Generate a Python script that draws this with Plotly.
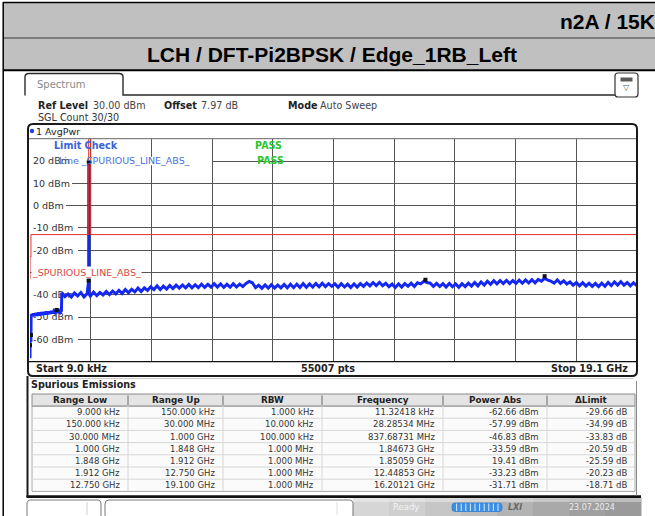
import plotly.graph_objects as go

W, H = 655, 516
FONT = "DejaVu Sans"
TITLE_FONT = "Liberation Sans"

# ------------------------------------------------------------------ data
band_top_text = "n2A / 15KHz"
band_sub_text = "LCH / DFT-Pi2BPSK / Edge_1RB_Left"
tab_label = "Spectrum"
setup_labels = ["Ref Level", "Offset", "Mode"]
setup_values = ["30.00 dBm", "7.97 dB", "Auto Sweep"]
sgl_count_text = "SGL Count 30/30"
trace_label = "1 AvgPwr"
limit_check_title = "Limit Check"
limit_line_name = "Line _SPURIOUS_LINE_ABS_"
limit_results = ["PASS", "PASS"]
limit_line_tag = "_SPURIOUS_LINE_ABS_"
start_text = "Start 9.0 kHz"
points_text = "55007 pts"
stop_text = "Stop 19.1 GHz"
table_title = "Spurious Emissions"
status_text = "Ready"
date_text = "23.07.2024"

freq_start_ghz = 0.000009
freq_stop_ghz = 19.1
level_min_dbm = -70
level_max_dbm = 30

y_tick_vals = [30, 20, 10, 0, -10, -20, -30, -40, -50, -60, -70]
y_tick_text = ["", "20 dBm", "10 dBm", "0 dBm", "-10 dBm", "-20 dBm", "",
               "-40 dBm", "-50 dBm", "-60 dBm", ""]

# limit line (step function)
limit_freq_ghz = [0.000009, 0.00015, 0.03, 1.848, 1.912, 19.1]
limit_dbm = [-33, -23, -13, 45, -13, -13]

# trace below 1 GHz
low_freq_ghz = [0.000009, 0.0000113, 0.00008, 0.00015, 0.002, 0.0283, 0.03, 0.035,
                0.07, 0.11, 0.15, 0.19, 0.23, 0.27, 0.31, 0.35, 0.39, 0.43, 0.47,
                0.51, 0.55, 0.59, 0.63, 0.67, 0.71, 0.75, 0.79, 0.8377, 0.87, 0.91,
                0.95, 0.99]
low_dbm = [-66.0, -62.66, -68.5, -64.0, -60.5, -57.99, -61.0, -48.6,
           -49.6, -48.4, -49.5, -48.2, -49.3, -48.0, -49.2, -47.9, -49.0, -47.8, -48.8,
           -47.6, -48.7, -47.5, -48.5, -47.4, -48.3, -47.2, -48.0, -46.83, -48.1, -47.1,
           -48.0, -47.2]

# carrier spike
carrier_freq_ghz = [1.84673, 1.85059, 1.8512]
carrier_dbm = [-33.59, 19.41, -39.5]

# trace 1.0 .. 19.1 GHz, 0.1 GHz per point
sweep_start_ghz = 1.0
sweep_step_ghz = 0.1
sweep_dbm = [
    -39.1, -40.8, -39.6, -41.0, -39.2, -40.5, -39.0, -40.9, -39.4, -40.6,
    -38.8, -40.4, -39.0, -40.1, -38.5, -39.9, -38.3, -39.6, -38.0, -39.4,
    -37.6, -39.1, -37.5, -38.7, -37.0, -38.5, -36.9, -38.0, -36.4, -37.7,
    -36.0, -37.6, -36.1, -37.4, -35.8, -37.2, -35.7, -37.0, -35.6, -36.9,
    -35.4, -36.9, -35.5, -36.8, -35.2, -36.7, -35.3, -36.6, -35.0, -36.5,
    -35.1, -36.7, -35.3, -36.6, -35.0, -36.5, -35.2, -36.3, -34.9, -34.0,
    -34.6, -36.8, -35.7, -37.1, -35.6, -37.0, -35.5, -37.0, -35.6, -36.9,
    -35.4, -36.9, -35.3, -36.8, -35.2, -36.7, -35.0, -36.6, -35.1, -36.5,
    -34.9, -36.4, -34.8, -36.3, -35.0, -36.2, -35.1, -36.6, -35.0, -36.5,
    -35.2, -36.7, -35.1, -36.5, -35.0, -36.2, -34.7, -36.0, -34.5, -35.9,
    -34.4, -35.9, -34.8, -36.4, -35.2, -36.7, -35.1, -36.5, -35.0, -36.2,
    -34.8, -36.3, -34.6, -35.1, -33.9, -34.5, -34.8, -36.2, -34.9, -36.3,
    -35.0, -36.5, -34.9, -36.4, -35.1, -36.6, -35.0, -36.3, -34.8, -36.1,
    -34.5, -36.0, -34.2, -35.6, -33.9, -35.3, -33.7, -35.1, -33.6, -35.0,
    -33.5, -35.0, -33.6, -34.9, -33.4, -34.8, -33.3, -34.7, -33.2, -34.6,
    -33.1, -33.9, -32.6, -33.4, -33.9, -34.8, -33.3, -34.9, -33.7, -35.2,
    -34.2, -35.7, -34.5, -36.0, -34.6, -36.1, -34.8, -36.2, -34.9, -36.3,
    -34.8, -36.2, -34.5, -35.9, -34.2, -35.6, -34.1, -35.7, -34.5, -36.0,
    -34.6, -35.9,
]

# spurious emissions table
table_header = ["Range Low", "Range Up", "RBW", "Frequency", "Power Abs", "ΔLimit"]
range_low = ["9.000 kHz", "150.000 kHz", "30.000 MHz", "1.000 GHz", "1.848 GHz",
             "1.912 GHz", "12.750 GHz"]
range_up = ["150.000 kHz", "30.000 MHz", "1.000 GHz", "1.848 GHz", "1.912 GHz",
            "12.750 GHz", "19.100 GHz"]
rbw = ["1.000 kHz", "10.000 kHz", "100.000 kHz", "1.000 MHz", "1.000 MHz",
       "1.000 MHz", "1.000 MHz"]
frequency = ["11.32418 kHz", "28.28534 MHz", "837.68731 MHz", "1.84673 GHz",
             "1.85059 GHz", "12.44853 GHz", "16.20121 GHz"]
power_abs = ["-62.66 dBm", "-57.99 dBm", "-46.83 dBm", "-33.59 dBm", "19.41 dBm",
             "-33.23 dBm", "-31.71 dBm"]
delta_limit = ["-29.66 dB", "-34.99 dB", "-33.83 dB", "-20.59 dB", "-25.59 dB",
               "-20.23 dB", "-18.71 dB"]

# ------------------------------------------------------------------ helpers
UNIT_GHZ = {"kHz": 1e-6, "MHz": 1e-3, "GHz": 1.0}


def to_ghz(s):
    v, u = s.split()
    return float(v) * UNIT_GHZ[u]


def to_num(s):
    return float(s.split()[0])


def px(x):
    return x / W


def py(y):
    return 1 - y / H


shapes = []
late_shapes = []
annotations = []


def rect(x0, y0, x1, y1, fill=None, line=None, lw=1, layer="below"):
    shapes.append(dict(type="rect", xref="paper", yref="paper",
                       x0=px(x0), x1=px(x1), y0=py(y1), y1=py(y0),
                       fillcolor=fill or "rgba(0,0,0,0)",
                       line=dict(color=line or "rgba(0,0,0,0)", width=lw if line else 0),
                       layer=layer))


def seg(x0, y0, x1, y1, color, lw=1, layer="above"):
    shapes.append(dict(type="line", xref="paper", yref="paper",
                       x0=px(x0), x1=px(x1), y0=py(y0), y1=py(y1),
                       line=dict(color=color, width=lw), layer=layer))


def path(cmds, line="#222", lw=1, fill=None, layer="above"):
    parts = []
    for c in cmds:
        op, nums = c[0], c[1:]
        pts = [f"{px(nums[i]):.5f},{py(nums[i + 1]):.5f}" for i in range(0, len(nums), 2)]
        parts.append(op + " ".join(pts))
    shapes.append(dict(type="path", xref="paper", yref="paper", path=" ".join(parts),
                       line=dict(color=line, width=lw),
                       fillcolor=fill or "rgba(0,0,0,0)", layer=layer))


def rrect(x0, y0, x1, y1, r, line="#222", lw=1, fill=None, layer="above"):
    path([("M", x0 + r, y0), ("L", x1 - r, y0), ("Q", x1, y0, x1, y0 + r),
          ("L", x1, y1 - r), ("Q", x1, y1, x1 - r, y1), ("L", x0 + r, y1),
          ("Q", x0, y1, x0, y1 - r), ("L", x0, y0 + r), ("Q", x0, y0, x0 + r, y0), ("Z",)],
         line=line, lw=lw, fill=fill, layer=layer)


def text(x, y, s, size=9.6, color="#222", anchor="left", family=FONT, bg=None):
    a = dict(x=px(x), y=py(y), xref="paper", yref="paper", text=s, showarrow=False,
             xanchor=anchor, yanchor="middle", borderpad=0,
             font=dict(family=family, size=size, color=color))
    if bg:
        a["bgcolor"] = bg
    annotations.append(a)


# plot area in pixels
PX0, PX1, PY0, PY1 = 30.0, 636.7, 138.7, 361.7


def px_to_ghz(x):
    return freq_start_ghz + (x - PX0) / (PX1 - PX0) * (freq_stop_ghz - freq_start_ghz)


# ------------------------------------------------------------------ traces
sweep_freq_ghz = [round(sweep_start_ghz + i * sweep_step_ghz, 4) for i in range(len(sweep_dbm))]
pts = sorted(zip(low_freq_ghz + carrier_freq_ghz + sweep_freq_ghz,
                 low_dbm + carrier_dbm + sweep_dbm))
trace_x = [p[0] for p in pts]
trace_y = [p[1] for p in pts]

marker_x = [to_ghz(f) for f in frequency]
marker_y = [to_num(p) for p in power_abs]

fig = go.Figure()
fig.add_trace(go.Scatter(x=trace_x, y=trace_y, mode="lines",
                         line=dict(color="#1428f2", width=3.0), hoverinfo="skip"))
fig.add_trace(go.Scatter(x=limit_freq_ghz, y=limit_dbm, mode="lines",
                         line=dict(color="#e0302a", width=1, shape="hv"), hoverinfo="skip"))
fig.add_trace(go.Scatter(x=marker_x, y=marker_y, mode="markers",
                         marker=dict(symbol="square", size=4, color="#111"),
                         hoverinfo="skip"))

# ------------------------------------------------------------------ chrome
# header bands
rect(3, 2.5, 660, 70, fill="#c0c0c0")
seg(3, 2.5, 660, 2.5, "#000", 1.5)
seg(3, 38, 660, 38, "#3a3a3a", 1)
seg(3, 70.3, 660, 70.3, "#000", 2)
seg(3.2, 2, 3.2, 516, "#000", 1.5)
text(559, 22, f"<b>{band_top_text}</b>", size=21, color="#000", family=TITLE_FONT)
text(332, 55, f"<b>{band_sub_text}</b>", size=21, color="#000", anchor="center",
     family=TITLE_FONT)

# Spectrum tab
path([("M", 25, 95.5), ("L", 25, 77), ("Q", 25, 73.5, 29, 73.5), ("L", 119, 73.5),
      ("Q", 123, 73.5, 123, 77), ("L", 123, 95), ("L", 615, 95)], line="#2a2a2a", lw=1.4)
text(36, 85, tab_label, size=10, color="#8a8a8a")
rrect(615, 73, 638, 97, 3, line="#333", lw=1.2, fill="#fff")
rect(620.5, 77.5, 632.5, 81.5, fill="#5a5a5a", layer="above")
text(626.5, 87.5, "▽", size=8, color="#555", anchor="center")

# setup info
label_x = [37, 163, 287]
value_x = [92, 200, 319]
for lx, vx, lab, val in zip(label_x, value_x, setup_labels, setup_values):
    text(lx, 105, f"<b>{lab}</b>", size=9.6, color="#222")
    text(vx, 105, val, size=9.6, color="#444")
text(37, 118, sgl_count_text, size=9.6, color="#333")

# plot frame
rrect(28, 124, 637, 376, 5, line="#1a1a1a", lw=2)
shapes.append(dict(type="circle", xref="paper", yref="paper",
                   x0=px(29.8), x1=px(34.2), y0=py(133.2), y1=py(128.8),
                   fillcolor="#2446cc", line=dict(width=0), layer="above"))
text(35, 131, trace_label, size=9.5, color="#222")
seg(29, PY0, 636, PY0, "#666", 1)
seg(29, PY1, 636, PY1, "#111", 1.2)

# limit check texts
text(53, 145, f"<b>{limit_check_title}</b>", size=9.6, color="#3a62d8")
text(58, 160.5, limit_line_name, size=9.5, color="#4a6fe0")
text(254, 145, f"<b>{limit_results[0]}</b>", size=9.6, color="#2ec42e")
text(256, 160.5, f"<b>{limit_results[1]}</b>", size=9.6, color="#2ec42e")
text(31, 272.6, limit_line_tag, size=9.5, color="#d64a44", bg="#ffffff")

# white backing behind tick labels (between grid and traces) -> drawn last
for v, t in zip(y_tick_vals, y_tick_text):
    if not t:
        continue
    x_end = 212 if v == 20 else 33 + 6.0 * len(t) + 3
    late_shapes.append(dict(type="rect", xref="x", yref="y",
                            x0=freq_start_ghz, x1=px_to_ghz(x_end), y0=v - 1.9, y1=v + 1.9,
                            fillcolor="#ffffff", line=dict(width=0), layer="between"))

# footer row
text(35, 368.5, f"<b>{start_text}</b>", size=9.6)
text(328, 368.5, f"<b>{points_text}</b>", size=9.6, anchor="center")
text(629, 368.5, f"<b>{stop_text}</b>", size=9.6, anchor="right")

# table frame
seg(27.5, 376, 27.5, 497, "#1a1a1a", 2)
seg(26.5, 496.6, 641, 496.6, "#111", 2.6)
seg(636.5, 381, 636.5, 495.5, "#8a8a8a", 1)
seg(30, 378.6, 633, 378.6, "#c8c8c8", 1)
text(30, 384.5, f"<b>{table_title}</b>", size=9.6)

col_bounds = [32, 128, 223, 322, 443, 547, 635]
table_columns = [range_low, range_up, rbw, frequency, power_abs, delta_limit]
hdr_top, hdr_bot = 394, 406
row_h = 12.2
n_rows = len(range_low)
body_bot = hdr_bot + row_h * n_rows

rect(col_bounds[0], hdr_top, col_bounds[-1], hdr_bot, fill="#e4e4e4", line="#8a8a8a",
     lw=1, layer="above")
rect(col_bounds[0], hdr_bot, col_bounds[-1], body_bot, fill="#fbfbfb", line="#a8a8a8",
     lw=1, layer="below")
for r in range(1, n_rows):
    yy = hdr_bot + r * row_h
    seg(col_bounds[0], yy, col_bounds[-1], yy, "#d6d6d6", 1)
for cb in col_bounds[1:-1]:
    seg(cb, hdr_top + 1.5, cb, hdr_bot - 1, "#6a6a6a", 1)
    seg(cb, hdr_bot, cb, body_bot, "#d6d6d6", 1)
for c, (head, col) in enumerate(zip(table_header, table_columns)):
    cx = (col_bounds[c] + col_bounds[c + 1]) / 2
    text(cx, (hdr_top + hdr_bot) / 2, f"<b>{head}</b>", size=8.8, anchor="center")
    for r, val in enumerate(col):
        yy = hdr_bot + (r + 0.5) * row_h
        text(col_bounds[c + 1] - 7, yy, val, size=8.5, color="#333", anchor="right")

# status bar
shade = ["#d6d6d6", "#cfcfcf", "#c6c6c6", "#bdbdbd", "#b3b3b3", "#a9a9a9", "#a0a0a0", "#9a9a9a"]
sx0, sx1 = 353, 641
step = (sx1 - sx0) / len(shade)
for k, col in enumerate(shade):
    rect(sx0 + k * step, 498, sx0 + (k + 1) * step + 0.5, 516, fill=col)
rect(sx0, 498, sx1, 502, fill="rgba(255,255,255,0.35)")
rrect(27, 500, 101, 519, 4, line="#777", lw=1, fill="#fff")
seg(87, 502, 87, 515, "#cfcfcf", 1)
rrect(105, 500, 353, 519, 4, line="#777", lw=1, fill="#fff")
seg(337, 502, 337, 515, "#dedede", 1)
text(392, 507, status_text, size=8.5, color="#f4f4f4")
rrect(452, 503, 502, 511.5, 3, line="#2f7fd4", lw=0.8, fill="#3d8fe3")
for k in range(1, 11):
    seg(452 + 4.6 * k, 503.5, 452 + 4.6 * k, 511, "#ffffff", 0.8)
text(507, 507, "<b><i>LXI</i></b>", size=8, color="#666")
text(568, 507, date_text, size=8, color="#ececec")

# ------------------------------------------------------------------ layout
fig.update_layout(
    width=W, height=H, autosize=False,
    margin=dict(l=0, r=0, t=0, b=0),
    paper_bgcolor="#ffffff", plot_bgcolor="#ffffff",
    showlegend=False,
    shapes=shapes + late_shapes, annotations=annotations,
    xaxis=dict(domain=[px(PX0), px(PX1)], range=[freq_start_ghz, freq_stop_ghz],
               tick0=freq_start_ghz, dtick=(freq_stop_ghz - freq_start_ghz) / 10,
               showticklabels=False, ticks="", showgrid=True, gridcolor="#555555",
               gridwidth=1, zeroline=False, showline=False, fixedrange=True,
               layer="below traces"),
    yaxis=dict(domain=[py(PY1), py(PY0)], range=[level_min_dbm, level_max_dbm],
               tickmode="array", tickvals=y_tick_vals, ticktext=y_tick_text,
               ticklabelposition="inside", ticks="", ticklabelstandoff=0,
               tickfont=dict(family=FONT, size=9.5, color="#333"),
               showgrid=True, gridcolor="#555555", gridwidth=1, zeroline=False,
               showline=False, fixedrange=True, layer="below traces"),
    font=dict(family=FONT),
)

fig.write_html("out.html", config={"displayModeBar": False},
               post_script="document.body.style.margin='0';"
                           "document.documentElement.style.overflow='hidden';")
